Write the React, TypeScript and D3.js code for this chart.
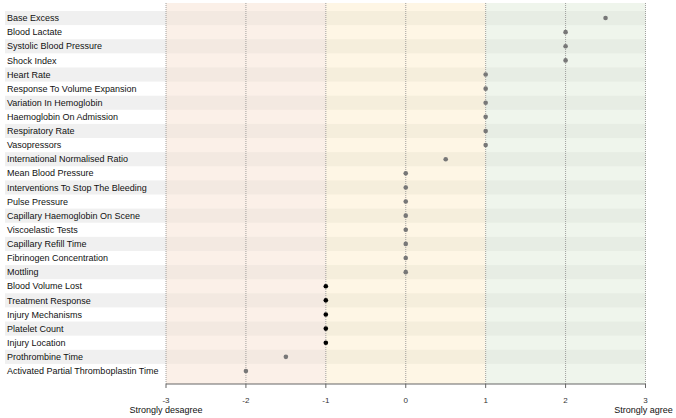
import React from "react";
import * as d3 from "d3";

const categories = [
  "Base Excess",
  "Blood Lactate",
  "Systolic Blood Pressure",
  "Shock Index",
  "Heart Rate",
  "Response To Volume Expansion",
  "Variation In Hemoglobin",
  "Haemoglobin On Admission",
  "Respiratory Rate",
  "Vasopressors",
  "International Normalised Ratio",
  "Mean Blood Pressure",
  "Interventions To Stop The Bleeding",
  "Pulse Pressure",
  "Capillary Haemoglobin On Scene",
  "Viscoelastic Tests",
  "Capillary Refill Time",
  "Fibrinogen Concentration",
  "Mottling",
  "Blood Volume Lost",
  "Treatment Response",
  "Injury Mechanisms",
  "Platelet Count",
  "Injury Location",
  "Prothrombine Time",
  "Activated Partial Thromboplastin Time",
];

const scores = [
  2.5, 2, 2, 2, 1, 1, 1, 1, 1, 1, 0.5, 0, 0, 0, 0, 0, 0, 0, 0, -1, -1, -1, -1, -1, -1.5, -2,
];

// marker group: 1 = dark marker, 0 = grey marker
const markerGroup = [
  0, 0, 0, 0, 0, 0, 0, 0, 0, 0, 0, 0, 0, 0, 0, 0, 0, 0, 0, 1, 1, 1, 1, 1, 0, 0,
];

const tickValues = [-3, -2, -1, 0, 1, 2, 3];
const axisEndLabels = ["Strongly desagree", "Strongly agree"];

const zones = [
  { from: -3, to: -1, fill: "#fbf0e8", stripe: "#f3e9e1" },
  { from: -1, to: 1, fill: "#fef6e5", stripe: "#f5eedc" },
  { from: 1, to: 3, fill: "#eff5ec", stripe: "#e7ede4" },
];

export default function App() {
  const W = 676;
  const H = 418;
  const plotTop = 3;
  const plotBottom = 384;
  const labelLeft = 5;

  const x = d3.scaleLinear().domain([-3, 3]).range([166, 645.5]);
  const y = d3
    .scaleBand<string>()
    .domain(categories)
    .range([11, 378])
    .paddingInner(0)
    .paddingOuter(0);
  const bw = y.bandwidth();
  const font = "Liberation Sans, Arial, sans-serif";

  return (
    <svg
      width={W}
      height={H}
      style={{ position: "absolute", left: 0, top: 0, background: "#fff" }}
      fontFamily={font}
    >
      {/* label-area stripes */}
      {categories.map((c, i) =>
        i % 2 === 0 ? (
          <rect key={"ls" + c} x={labelLeft} y={y(c)} width={x(-3) - labelLeft} height={bw} fill="#f0f0f0" />
        ) : null
      )}
      {/* zone backgrounds */}
      {zones.map((z) => (
        <rect
          key={"z" + z.from}
          x={x(z.from)}
          y={plotTop}
          width={x(z.to) - x(z.from)}
          height={plotBottom - plotTop}
          fill={z.fill}
        />
      ))}
      {/* zone stripes */}
      {zones.map((z) =>
        categories.map((c, i) =>
          i % 2 === 0 ? (
            <rect
              key={"zs" + z.from + c}
              x={x(z.from)}
              y={y(c)}
              width={x(z.to) - x(z.from)}
              height={bw}
              fill={z.stripe}
            />
          ) : null
        )
      )}
      {/* grid lines */}
      {tickValues.map((t) => (
        <line
          key={"g" + t}
          x1={x(t)}
          x2={x(t)}
          y1={plotTop}
          y2={plotBottom}
          stroke="#8a8a8a"
          strokeWidth={0.8}
          strokeDasharray="1,1"
        />
      ))}
      {/* labels */}
      {categories.map((c) => (
        <text key={"l" + c} x={7} y={(y(c) as number) + bw / 2} dy="0.35em" fontSize={9} fill="#111">
          {c}
        </text>
      ))}
      {/* points */}
      {categories.map((c, i) => (
        <circle
          key={"p" + c}
          cx={x(scores[i])}
          cy={(y(c) as number) + bw / 2}
          r={2.3}
          fill={markerGroup[i] ? "#000" : "#777"}
        />
      ))}
      {/* axis */}
      <line x1={x(-3)} x2={x(3)} y1={plotBottom} y2={plotBottom} stroke="#666" strokeWidth={1} />
      {tickValues.map((t) => (
        <g key={"t" + t}>
          <line x1={x(t)} x2={x(t)} y1={plotBottom} y2={plotBottom + 4} stroke="#666" />
          <text x={x(t)} y={400} dy="0.35em" textAnchor="middle" fontSize={8} fill="#333">
            {t}
          </text>
        </g>
      ))}
      <text x={x(-3)} y={410} dy="0.35em" textAnchor="middle" fontSize={9} fill="#111">
        {axisEndLabels[0]}
      </text>
      <text x={x(3) - 2} y={410} dy="0.35em" textAnchor="middle" fontSize={9} fill="#111">
        {axisEndLabels[1]}
      </text>
    </svg>
  );
}
